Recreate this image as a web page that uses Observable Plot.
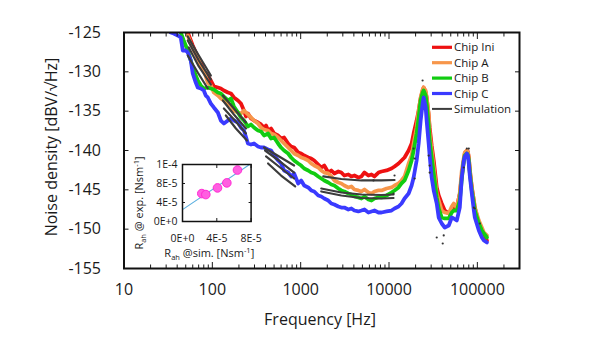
<!DOCTYPE html>
<html><head><meta charset="utf-8">
<script src="https://cdn.jsdelivr.net/npm/d3@7"></script>
<script src="https://cdn.jsdelivr.net/npm/@observablehq/plot@0.6"></script>
<style>
body{margin:0;background:#fff;}
#wrap{position:relative;width:600px;height:360px;overflow:hidden;}
</style></head><body><div id="wrap"></div>
<script>
// ---------- data (frequency [Hz], noise density [dBV/√Hz]) ----------
const seriesNames = ["Chip Ini", "Chip A", "Chip B", "Chip C", "Simulation"];
const seriesColors = ["#ee1111", "#f7964a", "#11cc11", "#3a3aff", "#3c3c3c"];

const chipIni = [[52.7,-125.0],[57.0,-126.02],[60.0,-126.65],[64.9,-127.54],[68.4,-128.30],[74.0,-128.81],[80.0,-129.83],[88.9,-130.47],[96.2,-131.10],[104,-131.86],[115.5,-131.99],[124.9,-132.12],[135.1,-132.37],[150.1,-132.63],[162.3,-132.75],[175.5,-133.26],[194.9,-133.64],[210.8,-134.03],[228,-134.92],[240.3,-135.68],[253,-135.30],[273.8,-135.93],[296.2,-136.19],[328.9,-136.44],[355.6,-136.69],[384.6,-137.08],[405.4,-136.82],[427.3,-137.46],[462.2,-137.20],[500,-137.84],[555,-138.09],[600,-138.47],[649,-138.35],[721,-139.11],[780,-139.49],[843,-139.62],[937,-140.25],[1013,-140.38],[1096,-140.64],[1216,-140.89],[1316,-141.02],[1423,-141.27],[1581,-141.78],[1710,-142.16],[1849,-141.91],[2054,-142.80],[2222,-142.54],[2403,-142.92],[2667,-142.67],[2884,-142.80],[3119,-143.18],[3465,-143.05],[3748,-143.30],[4054,-143.18],[4498,-143.43],[4870,-143.30],[5271,-142.80],[5849,-143.18],[6325,-143.05],[6840,-143.30],[7600,-142.80],[8220,-142.67],[9370,-142.54],[10670,-142.29],[11550,-142.03],[12820,-141.65],[13860,-141.27],[14990,-140.89],[16670,-140.00],[18030,-139.11],[18990,-137.84],[20540,-136.19],[21650,-134.92],[22800,-133.39],[24030,-132.37],[24650,-131.99],[25990,-132.63],[26670,-133.26],[28120,-135.55],[28850,-137.08],[30410,-139.36],[32070,-141.27],[34690,-144.70],[36520,-145.72],[39520,-146.74],[42760,-147.63],[47460,-148.01],[51330,-147.63],[54070,-147.25],[58480,-147.25],[63240,-145.47],[66670,-143.18],[70290,-141.27],[72110,-140.38],[76020,-140.00],[78000,-140.13],[80030,-140.89],[82120,-142.54],[86600,-144.70],[91280,-146.36],[93640,-147.25],[104000,-149.28],[112500,-150.17],[118600,-150.55],[128200,-151.44]];

const chipA = [[52.7,-125.38],[57.0,-126.40],[61.6,-127.29],[68.4,-128.18],[74.0,-129.19],[80.0,-129.83],[88.9,-131.36],[96.2,-131.74],[104,-132.63],[115.5,-133.01],[124.9,-133.39],[135.1,-133.64],[150.1,-134.15],[162.3,-134.28],[175.5,-134.92],[194.9,-135.17],[210.8,-135.30],[228,-134.92],[253,-135.42],[273.8,-135.80],[296.2,-136.19],[328.9,-136.57],[355.6,-137.08],[384.6,-137.33],[427.3,-137.46],[462.2,-137.84],[500,-137.97],[555,-138.35],[600,-138.73],[649,-139.11],[721,-139.62],[780,-140.00],[843,-140.38],[937,-140.64],[1013,-140.89],[1096,-141.02],[1216,-141.27],[1316,-141.65],[1423,-141.91],[1581,-142.16],[1710,-142.54],[1849,-142.80],[2054,-142.92],[2222,-143.30],[2403,-143.81],[2667,-144.07],[2884,-144.19],[3119,-144.45],[3465,-144.70],[3748,-144.57],[4054,-144.96],[4498,-145.08],[4870,-145.21],[5271,-144.96],[5849,-145.34],[6325,-145.47],[6840,-145.21],[7600,-145.08],[8220,-145.08],[9370,-144.83],[10670,-144.70],[11550,-144.45],[12820,-144.19],[13860,-143.81],[14990,-143.30],[16670,-141.65],[18030,-140.64],[18990,-139.11],[20540,-137.08],[21650,-134.92],[22800,-133.26],[24030,-132.25],[24650,-131.99],[25990,-132.37],[26670,-133.26],[28120,-135.30],[28850,-137.84],[30410,-140.00],[32070,-142.16],[34690,-145.47],[36520,-146.36],[39520,-147.63],[42760,-147.88],[47460,-148.01],[51330,-147.12],[54070,-146.74],[58480,-147.25],[63240,-145.47],[66670,-142.54],[70290,-140.89],[72110,-140.25],[76020,-140.00],[78000,-140.13],[80030,-140.89],[82120,-142.29],[86600,-144.70],[91280,-146.36],[93640,-147.25],[104000,-148.90],[112500,-149.79],[118600,-150.42],[128200,-150.80]];

const chipB = [[43.9,-125.0],[47.4,-126.02],[52.7,-127.29],[57.0,-128.56],[61.6,-129.83],[68.4,-131.10],[74.0,-131.74],[80.0,-132.12],[88.9,-131.99],[96.2,-132.12],[104,-132.25],[115.5,-132.63],[124.9,-132.75],[135.1,-133.14],[150.1,-133.64],[162.3,-133.39],[175.5,-134.41],[194.9,-135.17],[210.8,-135.80],[228,-136.19],[253,-136.95],[273.8,-136.69],[296.2,-137.08],[328.9,-137.46],[355.6,-137.58],[384.6,-138.09],[427.3,-137.84],[462.2,-138.47],[500,-138.35],[555,-139.11],[600,-139.62],[649,-140.00],[721,-140.38],[780,-140.89],[843,-141.27],[937,-141.65],[1013,-141.91],[1096,-142.29],[1216,-142.54],[1316,-142.80],[1423,-142.92],[1581,-143.30],[1710,-143.56],[1849,-143.81],[2054,-144.07],[2222,-144.32],[2403,-144.45],[2667,-144.83],[2884,-145.08],[3119,-145.21],[3465,-145.47],[3748,-145.59],[4054,-145.85],[4498,-145.97],[4870,-146.10],[5271,-145.85],[5849,-146.23],[6325,-146.36],[6840,-146.10],[7600,-145.97],[8220,-145.97],[9370,-145.72],[10670,-145.34],[11550,-145.08],[12820,-144.70],[13860,-144.19],[14990,-143.81],[16670,-142.54],[18030,-141.27],[18990,-140.00],[20540,-137.84],[21650,-135.80],[22800,-133.64],[24030,-132.63],[24650,-132.37],[25990,-133.01],[26670,-134.03],[28120,-136.82],[28850,-138.73],[30410,-140.89],[32070,-142.92],[34690,-145.97],[36520,-147.37],[39520,-148.52],[42760,-148.64],[47460,-148.64],[51330,-147.88],[54070,-147.63],[58480,-147.63],[63240,-146.36],[66670,-143.56],[70290,-141.27],[72110,-140.64],[76020,-140.38],[78000,-140.51],[80030,-141.27],[82120,-142.80],[86600,-145.08],[91280,-146.74],[93640,-147.63],[104000,-149.28],[112500,-150.17],[118600,-150.55],[128200,-151.06]];

const chipC = [[33.8,-125.0],[36.5,-125.13],[40.6,-125.38],[43.9,-125.64],[46.3,-127.29],[50.0,-127.29],[52.7,-127.54],[57.0,-128.56],[60.0,-130.21],[64.9,-131.36],[68.4,-131.99],[74.0,-132.12],[80.0,-132.37],[84.3,-133.01],[88.9,-133.26],[96.2,-134.03],[104,-134.53],[115.5,-135.17],[124.9,-136.19],[135.1,-136.57],[150.1,-136.19],[162.3,-135.93],[175.5,-136.19],[194.9,-136.44],[210.8,-137.08],[228,-137.46],[253,-139.11],[273.8,-139.24],[296.2,-139.11],[328.9,-139.49],[355.6,-139.62],[384.6,-139.62],[427.3,-139.87],[462.2,-140.00],[500,-140.64],[555,-141.27],[600,-141.65],[649,-142.54],[721,-142.80],[780,-143.30],[843,-142.92],[937,-144.19],[1013,-143.81],[1096,-144.45],[1216,-144.70],[1316,-145.08],[1423,-145.21],[1581,-145.72],[1710,-145.85],[1849,-146.10],[2054,-146.36],[2222,-146.74],[2403,-146.86],[2667,-147.12],[2884,-147.25],[3119,-147.25],[3465,-147.50],[3748,-147.37],[4054,-147.63],[4498,-147.75],[4870,-147.63],[5271,-147.50],[5849,-147.88],[6325,-147.75],[6840,-147.63],[7600,-147.88],[8220,-147.88],[9370,-147.75],[10670,-147.63],[11550,-147.37],[12820,-147.12],[13860,-146.74],[14990,-146.10],[16670,-145.47],[18030,-144.45],[18990,-143.43],[20540,-141.27],[21650,-139.11],[22800,-136.19],[24030,-134.03],[24650,-133.26],[25990,-134.53],[26670,-136.19],[28120,-139.11],[28850,-140.64],[30410,-143.43],[32070,-145.08],[34690,-146.74],[36520,-148.52],[39520,-149.28],[42760,-149.79],[47460,-149.53],[51330,-148.52],[54070,-148.64],[58480,-148.90],[63240,-147.25],[66670,-143.43],[70290,-141.27],[72110,-140.76],[76020,-140.38],[78000,-140.64],[80030,-141.65],[82120,-143.18],[86600,-145.47],[91280,-147.63],[93640,-148.52],[104000,-150.17],[112500,-151.06],[118600,-151.44],[128200,-151.69]];

// simulation: [segment id, frequency, dB]
const simulationSegments = [
  ["ini1",52.7,-125.51],["ini1",70.3,-127.92],["ini1",96.2,-130.47],
  ["a1",52.7,-126.02],["a1",70.3,-128.56],["a1",96.2,-130.97],
  ["b1",54.1,-126.91],["b1",70.3,-129.32],["b1",96.2,-131.61],
  ["c1",52.7,-127.92],["c1",68.4,-130.08],["c1",88.9,-132.12],
  ["ini2",131.6,-133.01],["ini2",175.5,-134.66],["ini2",240.3,-136.44],
  ["a2",131.6,-133.64],["a2",175.5,-135.42],["a2",240.3,-137.20],
  ["b2",135.1,-134.66],["b2",180.2,-136.19],["b2",240.3,-137.84],
  ["c2",142.3,-135.55],["c2",184.9,-137.20],["c2",246.6,-138.73],
  ["ini3",384.6,-139.62],["ini3",570,-140.76],["ini3",843,-141.91],
  ["a3",395,-140.00],["a3",585,-141.40],["a3",843,-142.80],
  ["b3",405.4,-140.76],["b3",585,-142.16],["b3",843,-143.56],
  ["c3",427.3,-141.65],["c3",600,-143.18],["c3",866,-144.57],
  ["ini4",1802,-143.30],["ini4",2884,-143.62],["ini4",4870,-143.81],["ini4",8220,-143.81],["ini4",11550,-143.75],
  ["a4",1710,-144.83],["a4",2884,-145.34],["a4",4870,-145.59],["a4",8220,-145.66],["a4",11240,-145.59],
  ["b4",1710,-145.21],["b4",2884,-145.72],["b4",4870,-146.04],["b4",8220,-146.10],["b4",11240,-146.04]
];
const simulationPoints = [[24000,-131.10],[18990,-139.75],[19500,-141.02],[19500,-143.56],[11550,-143.18],[11240,-145.47],[6670,-143.81],[28120,-140.64],[28850,-141.91],[28850,-142.80],[34690,-151.06],[41630,-150.80],[40550,-151.82],[70290,-142.16],[76020,-139.75],[80030,-139.75],[91280,-147.25],[93640,-147.37],[106800,-149.28]];

const yTicks = [-155, -150, -145, -140, -135, -130, -125];
const xMajorTicks = [10, 100, 1000, 10000, 100000];
const xTickLabels = ["10", "100", "1000", "10000", "100000"];
const xMinorTicks = [20,30,40,50,60,70,80,90,200,300,400,500,600,700,800,900,2000,3000,4000,5000,6000,7000,8000,9000,20000,30000,40000,50000,60000,70000,80000,90000,200000,300000];

// inset: R_ah @ simulation vs R_ah @ experiment
const rahSim = [2.25e-5, 2.72e-5, 4.08e-5, 5.17e-5, 6.41e-5];
const rahExp = [5.88e-5, 5.67e-5, 7.07e-5, 8.13e-5, 1.083e-4];
const fitSim = [0, 8e-5];
const fitExp = [2.5e-5, 1.22e-4];
const insetXTicks = [0, 4e-5, 8e-5];
const insetXTickLabels = ["0E+0", "4E-5", "8E-5"];
const insetYTicks = [0, 4e-5, 8e-5, 1.2e-4];
const insetYTickLabels = ["0E+0", "4E-5", "8E-5", "1E-4"];

// ---------- main chart ----------
const FONT = "'Open Sans', 'DejaVu Sans', sans-serif";
const toRows = (arr) => arr.map(([f, db]) => ({f, db}));
const series = [chipIni, chipA, chipB, chipC];
const simRows = simulationSegments.map(([seg, f, db]) => ({seg, f, db}));

const lineMarks = series.map((s, i) =>
  Plot.line(toRows(s), {x: "f", y: "db", stroke: seriesColors[i], strokeWidth: 3.8, strokeLinejoin: "round", clip: true}));

const main = Plot.plot({
  width: 600, height: 360,
  marginLeft: 123.5, marginRight: 81, marginTop: 32, marginBottom: 92,
  style: {fontFamily: FONT, background: "white", color: "#1a1a1a"},
  x: {type: "log", domain: [10, 3e5], label: null},
  y: {domain: [-155, -125], label: null},
  marks: [
    ...lineMarks,
    Plot.line(simRows, {x: "f", y: "db", z: "seg", stroke: seriesColors[4], strokeWidth: 2.2, clip: true}),
    Plot.dot(toRows(simulationPoints), {x: "f", y: "db", r: 1.1, fill: "#333", stroke: null}),
    Plot.axisY({anchor: "left", ticks: yTicks, tickSize: -5, tickPadding: 28, fontSize: 16, label: null, tickFormat: d => String(d)}),
    Plot.axisY({anchor: "right", ticks: yTicks, tickSize: -5, label: null, tickFormat: () => ""}),
    Plot.axisX({anchor: "bottom", ticks: xMajorTicks, tickSize: -6, tickPadding: 21.6, fontSize: 16, label: null, tickFormat: d => xTickLabels[xMajorTicks.indexOf(d)]}),
    Plot.axisX({anchor: "bottom", ticks: xMinorTicks, tickSize: -3.5, label: null, tickFormat: () => ""}),
    Plot.axisX({anchor: "top", ticks: xMajorTicks, tickSize: -6, label: null, tickFormat: () => ""}),
    Plot.axisX({anchor: "top", ticks: xMinorTicks, tickSize: -3.5, label: null, tickFormat: () => ""}),
    Plot.frame({stroke: "#111", strokeWidth: 2})
  ]
});
document.getElementById("wrap").appendChild(main);

const svg = d3.select(main);
svg.append("text").attr("x", 320).attr("y", 325).attr("text-anchor", "middle")
  .attr("font-family", FONT).attr("font-size", 16).attr("fill", "#1a1a1a").text("Frequency [Hz]");
svg.append("text").attr("transform", "translate(57,147) rotate(-90)").attr("text-anchor", "middle")
  .attr("font-family", FONT).attr("font-size", 16).attr("fill", "#1a1a1a").text("Noise density [dBV/\u221AHz]");

// legend
const lg = svg.append("g").attr("font-family", FONT).attr("font-size", 11.5).attr("fill", "#1a1a1a").attr("text-anchor", "start");
seriesNames.forEach((name, i) => {
  const yy = 47.3 + i * 15.4;
  lg.append("line").attr("x1", 432).attr("x2", 452).attr("y1", yy).attr("y2", yy)
    .attr("stroke", seriesColors[i]).attr("stroke-width", i < 4 ? 3.2 : 2);
  lg.append("text").attr("x", 454).attr("y", yy).attr("dy", "0.35em").attr("text-anchor", "start").text(name);
});

// ---------- inset ----------
const insetRows = rahSim.map((x, i) => ({x, y: rahExp[i]}));
const fitRows = fitSim.map((x, i) => ({x, y: fitExp[i]}));
const inset = Plot.plot({
  width: 137, height: 112,
  marginLeft: 60, marginRight: 8.4, marginTop: 10, marginBottom: 45,
  style: {fontFamily: FONT, background: "transparent", position: "absolute", left: "121.7px", top: "154px", overflow: "visible", color: "#1a1a1a"},
  x: {domain: [0, 8e-5], label: null},
  y: {domain: [0, 1.2e-4], label: null},
  marks: [
    Plot.frame({fill: "white", stroke: null}),
    Plot.line(fitRows, {x: "x", y: "y", stroke: "#5cb0e0", strokeWidth: 1.2, clip: true}),
    Plot.dot(insetRows, {x: "x", y: "y", r: 4.3, fill: "#ff5fe0", stroke: "#ff2ad4", strokeWidth: 1}),
    Plot.axisY({anchor: "left", ticks: insetYTicks, tickSize: -3, tickPadding: 8, fontSize: 10.5, label: null, tickFormat: d => insetYTickLabels[insetYTicks.indexOf(d)]}),
    Plot.axisY({anchor: "right", ticks: insetYTicks, tickSize: -3, label: null, tickFormat: () => ""}),
    Plot.axisX({anchor: "bottom", ticks: insetXTicks, tickSize: -3, tickPadding: 16, fontSize: 10.5, label: null, tickFormat: d => insetXTickLabels[insetXTicks.indexOf(d)]}),
    Plot.axisX({anchor: "top", ticks: insetXTicks, tickSize: -3, label: null, tickFormat: () => ""}),
    Plot.frame({stroke: "#111", strokeWidth: 1.5})
  ]
});
document.getElementById("wrap").appendChild(inset);
const isvg = d3.select(inset);
function subLabel(sel, middle) {
  sel.append("tspan").text("R");
  sel.append("tspan").attr("font-size", 7.5).attr("dy", 2.5).text("ah");
  sel.append("tspan").attr("dy", -2.5).text(middle + "[Nsm");
  sel.append("tspan").attr("font-size", 7.5).attr("dy", -4).text("-1");
  sel.append("tspan").attr("dy", 4).text("]");
}
const yl = isvg.append("text").attr("transform", "translate(21.3,49) rotate(-90)").attr("text-anchor", "middle")
  .attr("font-family", FONT).attr("font-size", 11).attr("fill", "#1a1a1a");
subLabel(yl, " @ exp. ");
const xl = isvg.append("text").attr("x", 87.3).attr("y", 103).attr("text-anchor", "middle")
  .attr("font-family", FONT).attr("font-size", 11).attr("fill", "#1a1a1a");
subLabel(xl, " @sim. ");
</script>
</body></html>
